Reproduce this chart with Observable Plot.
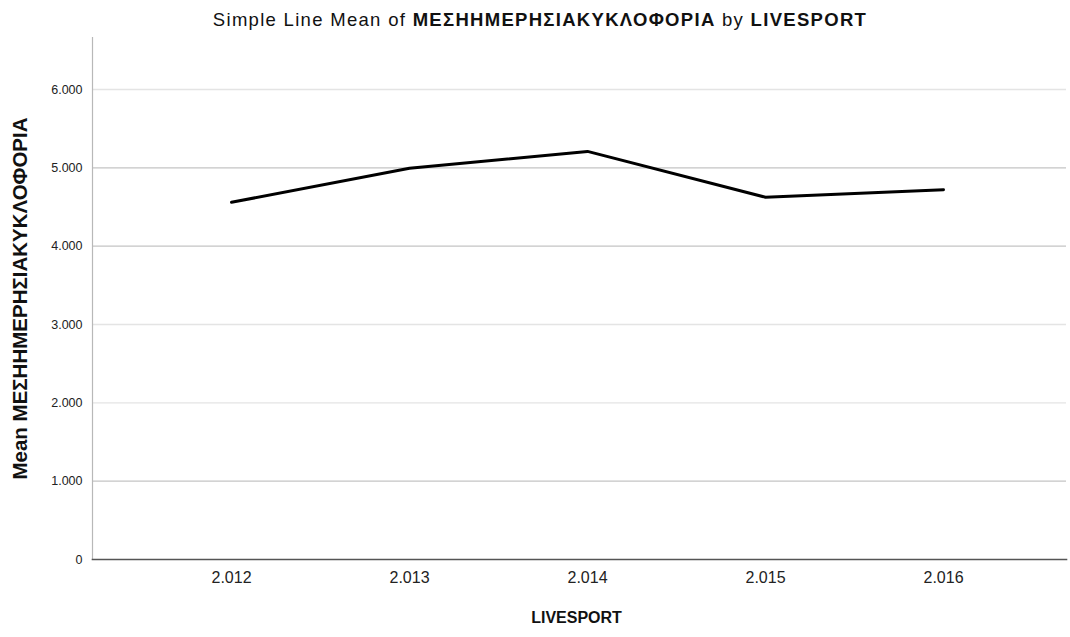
<!DOCTYPE html>
<html>
<head>
<meta charset="utf-8">
<script src="https://cdn.jsdelivr.net/npm/d3@7"></script>
<script src="https://cdn.jsdelivr.net/npm/@observablehq/plot@0.6"></script>
<style>
  body { margin: 0; background: #fff; font-family: "Liberation Sans", Arial, sans-serif; }
  #title { height: 36px; box-sizing: border-box; padding-top: 10px; padding-left: 10px; line-height: 20px; text-align: center; font-size: 18.5px; letter-spacing: 1.3px; color: #111; width: 1070px; white-space: nowrap; }
  #title b { font-weight: 600; }
</style>
</head>
<body>
<div id="title">Simple Line Mean of <b>ΜΕΣΗΗΜΕΡΗΣΙΑΚΥΚΛΟΦΟΡΙΑ</b> by <b>LIVESPORT</b></div>
<div id="chart"></div>
<script>
const years = [2012, 2013, 2014, 2015, 2016];
const meanValues = [4560, 4995, 5210, 4625, 4720];
const yTicks = [0, 1000, 2000, 3000, 4000, 5000, 6000];
const gridValues = [1000, 2000, 3000, 4000, 5000, 6000];
const xTitle = "LIVESPORT";
const yTitle = "Mean ΜΕΣΗΗΜΕΡΗΣΙΑΚΥΚΛΟΦΟΡΙΑ";

const data = years.map((y, i) => ({ year: y, value: meanValues[i] }));
const loc = d3.formatLocale({ decimal: ",", thousands: ".", grouping: [3], currency: ["", "€"] });
const fmt = loc.format(",d");
const darkGrid = new Set([1000, 4000, 5000]);

const chart = Plot.plot({
  width: 1070,
  height: 601,
  marginLeft: 92,
  marginRight: 4,
  marginTop: 1,
  marginBottom: 78,
  style: { fontFamily: "'Liberation Sans', Arial, sans-serif", background: "#fff" },
  x: { type: "point", domain: years, range: [230, 943], padding: 0, label: null },
  y: { domain: [0, 6664], label: null },
  marks: [
    Plot.ruleY(gridValues, { stroke: d => darkGrid.has(d) ? "#c4c4c4" : "#e4e4e4", strokeWidth: 1.3 }),
    Plot.axisY(yTicks, { tickSize: 0, tickPadding: 10, tickFormat: fmt, fontSize: 12.5, fill: "#222", label: null }),
    Plot.axisX(years, { tickSize: 0, tickPadding: 12, tickFormat: fmt, fontSize: 16, fill: "#222", label: null }),
    Plot.frame({ anchor: "left", stroke: "#b8b8b8", strokeWidth: 1.2 }),
    Plot.frame({ anchor: "bottom", stroke: "#555", strokeWidth: 1.6 }),
    Plot.line(data, { x: "year", y: "value", stroke: "#000", strokeWidth: 3, strokeLinejoin: "round" }),
    Plot.text([xTitle], { frameAnchor: "bottom", dx: -3, dy: 63, fontSize: 16, fontWeight: "bold", fill: "#111", text: d => d }),
    Plot.text([yTitle], { frameAnchor: "left", textAnchor: "middle", dx: -72, rotate: -90, fontSize: 20.5, fontWeight: "bold", fill: "#111", text: d => d })
  ]
});
document.getElementById("chart").appendChild(chart);
</script>
</body>
</html>
